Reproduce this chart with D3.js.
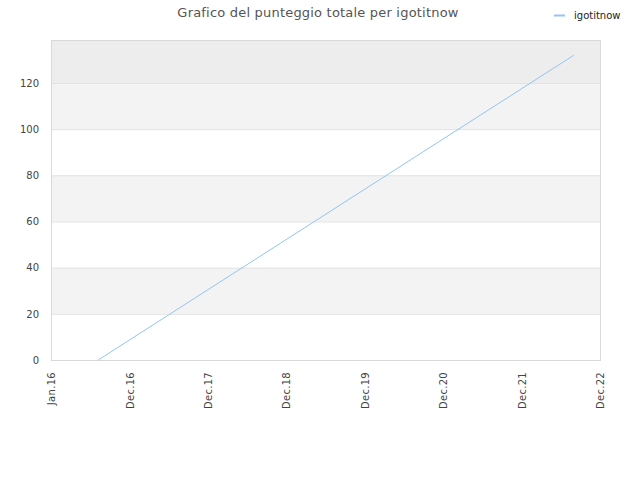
<!DOCTYPE html>
<html>
<head>
<meta charset="utf-8">
<script src="https://cdn.jsdelivr.net/npm/d3@7"></script>
<style>
  body { margin: 0; background: #fff; }
  svg { display: block; font-family: "DejaVu Sans", sans-serif; }
</style>
</head>
<body>
<svg id="chart"></svg>
<script>
// chart data
const seriesName = "igotitnow";
const dates = ["2016-07-08", "2022-08-01"];
const scores = [0, 132];
const tickDates = ["2015-12-01", "2016-12-01", "2017-12-01", "2018-12-01", "2019-12-01", "2020-12-01", "2021-12-01", "2022-12-01"];
const tickLabels = ["Jan.16", "Dec.16", "Dec.17", "Dec.18", "Dec.19", "Dec.20", "Dec.21", "Dec.22"];
const yTicks = [0, 20, 40, 60, 80, 100, 120];

const width = 640;
const height = 480;
const margin = { top: 40, right: 40, bottom: 120, left: 51 };
const innerWidth = width - margin.left - margin.right;
const innerHeight = height - margin.top - margin.bottom;

const parse = d3.timeParse("%Y-%m-%d");
const points = dates.map((d, i) => ({ date: parse(d), value: scores[i] }));
const tickDateObjs = tickDates.map(parse);

const svg = d3.select("#chart").attr("width", width).attr("height", height);

const x = d3.scaleTime()
  .domain([tickDateObjs[0], tickDateObjs[tickDateObjs.length - 1]])
  .range([0, innerWidth]);

const y = d3.scaleLinear()
  .domain([0, 138.6])
  .range([innerHeight, 0]);

const g = svg.append("g").attr("transform", `translate(${margin.left},${margin.top})`);

// alternating bands, top one a bit darker
const bandEdges = yTicks.concat([y.domain()[1]]);
for (let i = 0; i < bandEdges.length - 1; i++) {
  let fill = i % 2 === 1 ? "#f3f3f3" : "#ffffff";
  if (i === bandEdges.length - 2) fill = "#ededed";
  g.append("rect")
    .attr("x", 0)
    .attr("y", y(bandEdges[i + 1]))
    .attr("width", innerWidth)
    .attr("height", y(bandEdges[i]) - y(bandEdges[i + 1]))
    .attr("fill", fill);
}

// grid lines
g.selectAll(".grid")
  .data(yTicks)
  .enter()
  .append("line")
  .attr("x1", 0)
  .attr("x2", innerWidth)
  .attr("y1", (d) => y(d) + 0.5)
  .attr("y2", (d) => y(d) + 0.5)
  .attr("stroke", "#e2e2e2");

// plot frame
g.append("rect")
  .attr("x", 0.5)
  .attr("y", 0.5)
  .attr("width", innerWidth)
  .attr("height", innerHeight)
  .attr("fill", "none")
  .attr("stroke", "#d9d9d9");

// y axis
const yAxis = d3.axisLeft(y).tickValues(yTicks).tickSize(0).tickPadding(12);
g.append("g")
  .call(yAxis)
  .call((a) => a.select(".domain").remove())
  .selectAll("text")
  .attr("font-size", "10px")
  .attr("fill", "#444")
  .attr("font-family", "DejaVu Sans, sans-serif");

// x axis, labels turned upright
const xAxis = d3.axisBottom(x)
  .tickValues(tickDateObjs)
  .tickSize(0)
  .tickFormat((d, i) => tickLabels[i]);
g.append("g")
  .attr("transform", `translate(0,${innerHeight})`)
  .call(xAxis)
  .call((a) => a.select(".domain").remove())
  .selectAll("text")
  .attr("font-size", "10px")
  .attr("fill", "#444")
  .attr("font-family", "DejaVu Sans, sans-serif")
  .attr("letter-spacing", "0.3px")
  .attr("text-anchor", "end")
  .attr("transform", "rotate(-90)")
  .attr("x", -12)
  .attr("y", 0)
  .attr("dy", "0.35em");

// series line
const line = d3.line()
  .x((d) => x(d.date))
  .y((d) => y(d.value));

g.append("path")
  .datum(points)
  .attr("fill", "none")
  .attr("stroke", "#92c4f4")
  .attr("stroke-width", 1)
  .attr("d", line);

// title
svg.append("text")
  .attr("x", 318)
  .attr("y", 17)
  .attr("text-anchor", "middle")
  .attr("font-size", "13px")
  .attr("letter-spacing", "0.2px")
  .attr("fill", "#555")
  .text("Grafico del punteggio totale per igotitnow");

// legend
const legend = svg.append("g").attr("transform", "translate(554,15)");
legend.append("line")
  .attr("x1", 0)
  .attr("x2", 11)
  .attr("y1", 0.5)
  .attr("y2", 0.5)
  .attr("stroke", "#92c4f4")
  .attr("stroke-width", 2);
legend.append("text")
  .attr("x", 20)
  .attr("y", 4)
  .attr("font-size", "10px")
  .attr("fill", "#222")
  .text(seriesName);
</script>
</body>
</html>
